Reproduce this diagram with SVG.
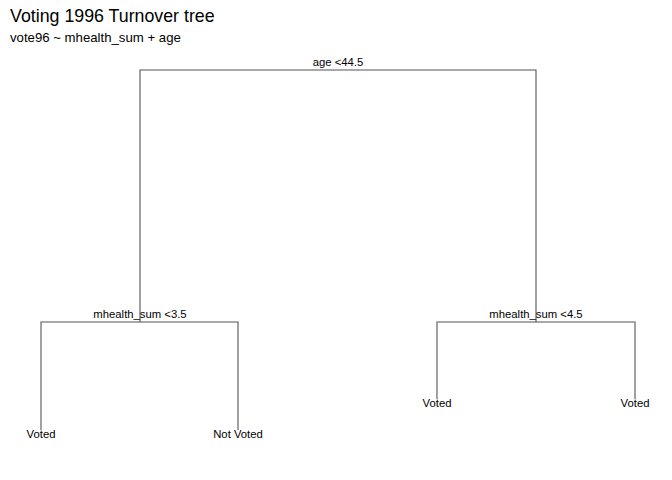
<svg xmlns="http://www.w3.org/2000/svg" width="672" height="480" viewBox="0 0 672 480">
<style>
.t{font-family:"Liberation Sans",Arial,sans-serif;fill:#000}
.lbl{font-family:"Liberation Sans",Arial,sans-serif;font-size:11.3px;fill:#000;text-anchor:middle}
.e{stroke:#555;stroke-width:1.1;fill:none}
</style>
<rect width="672" height="480" fill="#fff"/>
<text class="t" x="10" y="22" font-size="17.8">Voting 1996 Turnover tree</text>
<text class="t" x="10" y="42" font-size="13.2">vote96 ~ mhealth_sum + age</text>
<g id="connectors">
<path class="e" d="M140,322 V70 H536 V322"/>
<path class="e" d="M41,430 V322 H238 V430"/>
<path class="e" d="M437,399 V322 H635 V399"/>
</g>
<g id="root"><text class="lbl" x="338" y="66">age &lt;44.5</text></g>
<g id="split-left"><text class="lbl" x="140" y="318">mhealth_sum &lt;3.5</text></g>
<g id="split-right"><text class="lbl" x="536" y="318">mhealth_sum &lt;4.5</text></g>
<g id="leaf1"><text class="lbl" x="41" y="438">Voted</text></g>
<g id="leaf2"><text class="lbl" x="238" y="438">Not Voted</text></g>
<g id="leaf3"><text class="lbl" x="437" y="407">Voted</text></g>
<g id="leaf4"><text class="lbl" x="635" y="407">Voted</text></g>
</svg>
